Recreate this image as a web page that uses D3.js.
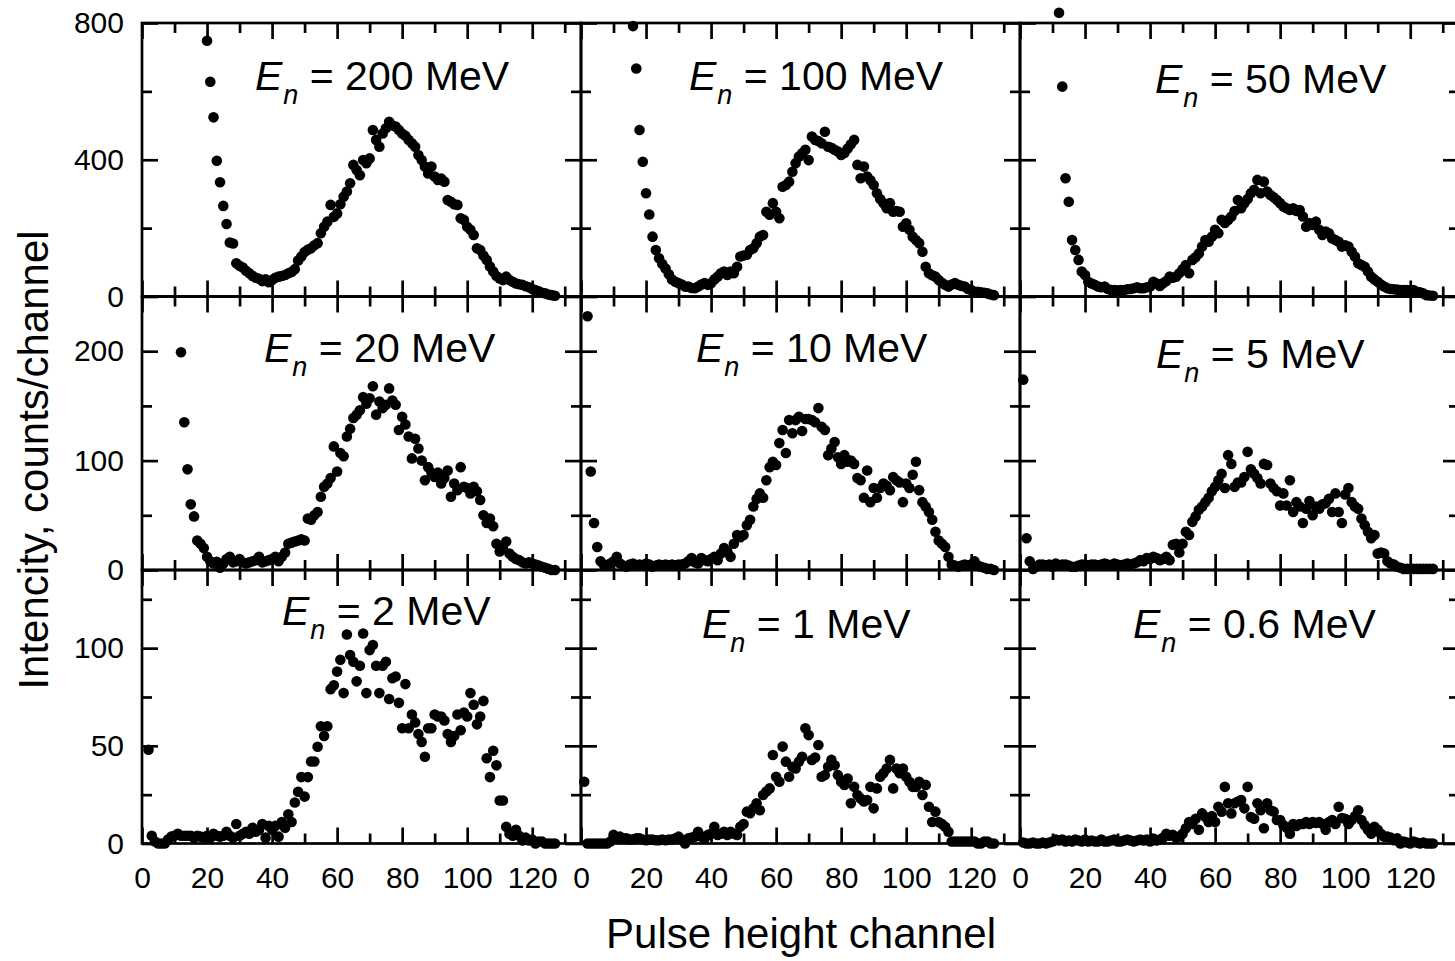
<!DOCTYPE html>
<html><head><meta charset="utf-8">
<script src="https://cdn.jsdelivr.net/npm/d3@7"></script>
<style>html,body{margin:0;padding:0;background:#fff;} svg{display:block;background:#fff;}</style>
</head><body>
<svg id="chart" width="1455" height="961"></svg>
<script>
// ---------------- DATA ----------------
const panelEnergies = ["200 MeV", "100 MeV", "50 MeV", "20 MeV", "10 MeV", "5 MeV", "2 MeV", "1 MeV", "0.6 MeV"];
const firstChannel = [20, 16, 12, 12, 2, 1, 2, 1, 1];

const counts200 = [748,628,524,397,334,265,212,158,155,97, 90,85,75,68,60,55,52,45,50,42, 48,55,58,60,63,68,72,80,105,117,
  130,137,141,150,156,185,204,219,268,233, 243,270,292,307,331,385,370,355,399,390, 404,487,458,438,477,492,511,500,497,487,
  477,470,458,448,438,414,399,380,360,380, 351,341,345,336,282,277,270,268,229,224, 204,195,180,141,136,120,107,88,73,60,
  53,48,58,48,43,38,36,34,30,27, 22,19,15,11,9,6,4,2];
const counts100 = [791,667,487,394, 302,240,175,136,112,95,82,65,50,43, 39,35,29,29,25,24,29,35,39,34, 39,50,58,68,73,63,73,68,87,117,
  120,122,136,141,156,175,180,248,239,273, 248,229,321,326,336,365,390,409,419,429, 399,468,458,455,448,482,438,435,429,424,
  414,420,433,445,458,385,346,380,351,340, 326,302,285,273,258,273,248,250,248,204, 214,195,175,165,156,131,87,68,62,58,
  48,40,34,29,35,39,34,31,29,22, 19,14,14,12,11,9,6,4];
const counts50 = [830,614,346,277,165,136,107,73, 63,43,38,34,29,27,29,22,19,19, 18,19,19,21,22,24,27,24,24,27,
  29,43,38,31,39,45,58,55,58,68, 80,92,68,107,115,126,146,165,160,175, 195,185,224,215,224,234,250,282,258,273,
  285,302,312,341,302,336,307,297,290,282, 273,263,258,253,258,250,253,234,204,215, 209,219,195,180,190,185,170,165,160,146,
  150,146,131,117,97,92,87,73,58,50, 43,35,29,24,22,21,20,19,19,19, 18,19,14,12,9,4,3,2];
const counts20 = [199,135,92,60,49,27,24,20, 12,8,6,7.5,2,6,10,12,7,8, 10,7,6,7,8,9,12,7,8,9, 10,12,8,12,16,24,25,26,27,28,
  27,47,46,50,53,67,76,79,84,113, 90,107,104,122,129,139,142,146,158,152, 157,168,142,154,148,151,166,155,151,128,
  140,133,122,102,120,111,100,82,94,89, 85,89,79,84,91,67,79,73,94,76, 75,70,76,72,64,50,43,47,40,24,
  17,20,26,15,12,10,9,7,6,7, 6,5,4,3,2,1,0,0];
const counts10 = [232,90,43,21,8,5,4,6, 8,12,6,4,3,5,6,4,5,4, 6,5,3,4,5,4,5,4,5,4, 5,5,6,8,11,7,6,11,9,8,
  10,12,9,15,20,17,12,24,32,30, 32,41,46,58,65,70,66,82,94,99, 96,116,128,107,137,125,137,140,127,138,
  138,137,135,148,131,128,105,111,117,103, 97,105,99,100,97,84,82,66,91,62, 75,66,75,79,77,73,85,82,80,62,
  79,75,87,99,73,62,58,53,46,35, 27,24,21,12,5,4,3,4,5,4, 5,8,4,3,2,1,1,0];
const counts5 = [174,29,8,1,3,5,5,4,5, 3,6,4,5,5,4,3,3,4,5, 5,4,5,5,4,5,6,5,4,6, 5,4,5,6,5,6,7,9,8,11,
  10,12,11,9,10,12,9,23,24,16, 24,35,32,44,49,55,58,62,66,72, 76,82,88,75,105,97,76,80,80,85,
  108,92,88,84,79,97,96,79,75,72, 59,70,59,82,53,62,58,43,56,63, 50,58,56,60,61,65,53,70,53,43,
  69,75,62,58,56,47,41,35,29,32, 15,16,15,8,6,5,3,2,1,1, 1,1,1,1,1,1,1,1];
const counts2 = [48,4,1,0,0,0,2,3.5, 4,5,4,4,4,4,3,4,3.5,3, 4,3,5,4,3.5,4,6,4,3,10, 4,5,6,5,8,6,7,10,3,9,
  7,9,3.5,11,8,15,11,21,26.5,34, 24,34,42,42,49.5,60,55,60,79,81, 88,94,77,107,96.5,93,83,91,107.5,77,
  99,101.6,91,77,91,93,74,84.6,85.5,72, 59,81.6,59,66,62,56,52,44.4,59,59, 66,65,65,63,56,52,55,66,58,67,
  65,77,71,61,65,73,43.6,34,47.5,40, 22,22,8.6,5,4,7,4,1.5,3,1.5, 2,0,1,1,0,0,0,0];
const counts1 = [31.6,0,0,0,0,0,0,0,1, 4.4,3,3.5,2.6,2.6,2,2.2,2.6,2.6,2, 1.7,2,2,1.7,1.7,2,1.7,2,2,2.6,
  3.5,2,0,2.6,3,3.5,6,3.5,2.6,4.4, 5,8.6,4.4,5,6,4.4,6,5,4.4,8.6, 10,16.3,15.5,18,20.6,17,24.8,26.6,28.2,45.3,
  34.2,31.6,49.6,41.9,34.2,39.3,38.4,41.9,44.4,59, 55.5,42.8,44,50.4,34.2,35,39.3,42.8,40,35,
  31.6,30,33.3,20.6,29,24.8,23,21.5,22.3,29, 18,28.2,34.2,36,38.4,42.8,28.2,38.4,36,38.4,
  34.2,31.6,29,29,31.6,24.8,30,18.8,11,16.3, 11,10,8.6,6,1,1,1,1,1,1, 1,1,0,0,1,1,0,0];
const counts06 = [0.5,0,0,0.5,0,0,0.5,0,0.5, 1,2,1.5,2,1,1.5,1,2,1.5,1, 2,1,1.5,1,1,2,1,1,1.5,2,
  1,1,1.5,2,1.5,1,1.5,2,1.5,2, 1,2.5,1.5,2,3,5,4,4.4,3,3.5, 5,7.8,11,10,12.7,7,15.4,13.6,11,14,
  11,18.8,16.3,29,20.6,15.4,20.6,21.5,22.3,18, 29,13.6,12.7,20.6,17,7.8,20.6,17,16.3,12,
  12,9.4,8,5,10,9,10,10,11,10, 11,10.5,11,10,7,11,12,10,18.8,13, 12.7,10,12,14,17,12,9.4,7,5,8.6,
  7,5,3.5,3.5,3,1.7,2.6,0,1,0.5, 0,1,0.5,0,0.5,0,0,0];

const panelCounts = [counts200, counts100, counts50, counts20, counts10, counts5, counts2, counts1, counts06];

const xDomain = [0, 135];
const xMajorTicks = [0, 20, 40, 60, 80, 100, 120];
const xMinorTicks = [10, 30, 50, 70, 90, 110, 130];
const rowYMax = [800, 250, 140];
const rowMajorTicks = [[0, 400, 800], [0, 100, 200], [0, 50, 100]];
const rowMinorTicks = [[200, 600], [50, 150], [25, 75, 125]];

const xTitle = "Pulse height channel";
const yTitle = "Intencity, counts/channel";

// ---------------- LAYOUT ----------------
const FONT = "'Liberation Sans', Arial, Helvetica, sans-serif";
const colX = [142, 581, 1020], panelW = 439;
const rowY = [23, 296.5, 570], panelH = 273.5;
const labelPos = [[113,67],[108,67],[135,70],[122,65],[115,65],[136,71.5],[140,55],[121,67.7],[113,68.3]];
const MAJ = 16, MIN = 10, LW = 2.7;

const svg = d3.select("#chart");
svg.append("rect").attr("width", 1455).attr("height", 961).attr("fill", "#fff");

function styleAxis(sel, labelSize) {
  sel.select(".domain").remove();
  sel.selectAll(".tick line").attr("stroke", "#000").attr("stroke-width", LW);
  sel.selectAll(".tick text").attr("fill", "#000").attr("font-family", FONT).attr("font-size", labelSize);
}

panelCounts.forEach((vals, i) => {
  const r = Math.floor(i / 3), c = i % 3;
  const g = svg.append("g").attr("transform", `translate(${colX[c]},${rowY[r]})`);
  const x = d3.scaleLinear().domain(xDomain).range([0, panelW]);
  const y = d3.scaleLinear().domain([0, rowYMax[r]]).range([panelH, 0]);
  const none = () => "";

  // bottom
  g.append("g").attr("transform", `translate(0,${panelH})`)
    .call(d3.axisBottom(x).tickValues(xMajorTicks).tickSize(-MAJ).tickPadding(23)
      .tickFormat(r === 2 ? d3.format("d") : none))
    .call(s => styleAxis(s, 30));
  g.append("g").attr("transform", `translate(0,${panelH})`)
    .call(d3.axisBottom(x).tickValues(xMinorTicks).tickSize(-MIN).tickFormat(none))
    .call(s => styleAxis(s, 30));
  // top
  g.append("g").call(d3.axisTop(x).tickValues(xMajorTicks).tickSize(-MAJ).tickFormat(none)).call(s => styleAxis(s, 30));
  g.append("g").call(d3.axisTop(x).tickValues(xMinorTicks).tickSize(-MIN).tickFormat(none)).call(s => styleAxis(s, 30));
  // left
  g.append("g")
    .call(d3.axisLeft(y).tickValues(rowMajorTicks[r]).tickSize(-MAJ).tickPadding(18)
      .tickFormat(c === 0 ? d3.format("d") : none))
    .call(s => styleAxis(s, 30));
  g.append("g").call(d3.axisLeft(y).tickValues(rowMinorTicks[r]).tickSize(-MIN).tickFormat(none)).call(s => styleAxis(s, 30));
  // right
  g.append("g").attr("transform", `translate(${panelW},0)`)
    .call(d3.axisRight(y).tickValues(rowMajorTicks[r]).tickSize(-MAJ).tickFormat(none)).call(s => styleAxis(s, 30));
  g.append("g").attr("transform", `translate(${panelW},0)`)
    .call(d3.axisRight(y).tickValues(rowMinorTicks[r]).tickSize(-MIN).tickFormat(none)).call(s => styleAxis(s, 30));

  // frame
  g.append("rect").attr("width", panelW).attr("height", panelH)
    .attr("fill", "none").attr("stroke", "#000").attr("stroke-width", LW);

  // label
  const t = g.append("text").attr("x", labelPos[i][0]).attr("y", labelPos[i][1])
    .attr("font-family", FONT).attr("font-size", 41).attr("fill", "#000");
  t.append("tspan").attr("font-style", "italic").text("E");
  t.append("tspan").attr("font-style", "italic").attr("font-size", 27).attr("dy", 14).attr("dx", 1).text("n");
  t.append("tspan").attr("dy", -14).text("\u00A0= " + panelEnergies[i]);

  // points
  const pts = vals.map((v, k) => [firstChannel[i] + k, v]);
  g.selectAll("circle").data(pts).join("circle")
    .attr("cx", d => x(d[0])).attr("cy", d => y(d[1])).attr("r", 5.3).attr("fill", "#000");
});

// axis titles
svg.append("text").attr("x", 801).attr("y", 948).attr("text-anchor", "middle")
  .attr("font-family", FONT).attr("font-size", 42).attr("fill", "#000").text(xTitle);
svg.append("text").attr("transform", "translate(48,460) rotate(-90)").attr("text-anchor", "middle")
  .attr("font-family", FONT).attr("font-size", 42).attr("fill", "#000").text(yTitle);
</script>
</body></html>
